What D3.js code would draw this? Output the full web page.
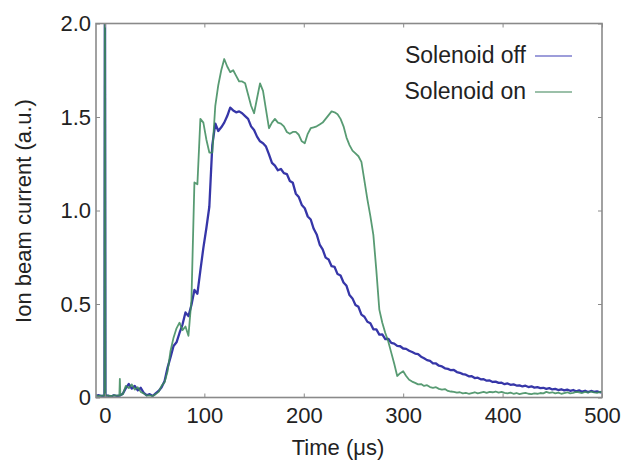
<!DOCTYPE html>
<html><head><meta charset="utf-8">
<script src="https://cdn.jsdelivr.net/npm/d3@7"></script>
<style>
html,body{margin:0;padding:0;background:#fff;}
svg{display:block;}
text{font-family:"Liberation Sans",Arial,sans-serif;fill:#222;}
</style></head>
<body>
<svg id="chart" width="621" height="464"></svg>
<script>
// sampling times (µs): a few extra samples around the two short spikes, then every 3 µs
const time = [-9, -6, -3, -0.5, 0, 0.5, 3, 6, 9, 12, 14.5, 15, 15.5].concat(d3.range(18, 502, 3));

const solenoidOff = [
  0.01, 0.012, 0.008, 0.01, 2.6, 0.01, 0.01, 0.005, 0.012, 0.008, 0.01, 0.01, 0.012, 0.02,
  0.05, 0.072, 0.048, 0.062, 0.038, 0.052, 0.025, 0.012, 0.018, 0.008,
  0.022, 0.035, 0.055, 0.088, 0.16, 0.215, 0.275, 0.295, 0.345, 0.39,
  0.455, 0.435, 0.495, 0.575, 0.555, 0.68, 0.80, 0.905, 1.02, 1.35,
  1.465, 1.425, 1.445, 1.47, 1.505, 1.55, 1.535, 1.525, 1.53, 1.52,
  1.505, 1.49, 1.45, 1.43, 1.395, 1.37, 1.36, 1.342, 1.30, 1.255,
  1.24, 1.215, 1.222, 1.20, 1.195, 1.158, 1.148, 1.09, 1.072, 1.03,
  1.012, 0.968, 0.952, 0.902, 0.872, 0.818, 0.792, 0.748, 0.738, 0.702,
  0.698, 0.66, 0.652, 0.615, 0.597, 0.548, 0.53, 0.495, 0.485, 0.443,
  0.432, 0.405, 0.397, 0.365, 0.364, 0.336, 0.338, 0.312, 0.314, 0.292,
  0.288, 0.276, 0.274, 0.262, 0.26, 0.25, 0.243, 0.235, 0.232, 0.218,
  0.21, 0.20, 0.196, 0.183, 0.182, 0.17, 0.166, 0.156, 0.153, 0.146,
  0.147, 0.136, 0.132, 0.125, 0.122, 0.113, 0.114, 0.104, 0.106, 0.097,
  0.098, 0.09, 0.091, 0.083, 0.085, 0.078, 0.079, 0.071, 0.075, 0.068,
  0.07, 0.064, 0.065, 0.059, 0.063, 0.056, 0.06, 0.053, 0.055, 0.05,
  0.052, 0.046, 0.05, 0.043, 0.046, 0.04, 0.044, 0.038, 0.042, 0.036,
  0.04, 0.033, 0.038, 0.031, 0.036, 0.029, 0.035, 0.03, 0.033, 0.028,
  0.03
];

const solenoidOn = [
  0.012, 0.008, 0.01, 0.01, 2.6, 0.01, 0.01, 0.008, 0.012, 0.01, 0.01, 0.10, 0.012, 0.018,
  0.062, 0.05, 0.07, 0.042, 0.055, 0.03, 0.022, 0.01, 0.012, 0.008,
  0.018, 0.03, 0.062, 0.082, 0.14, 0.25, 0.32, 0.37, 0.40, 0.36,
  0.38, 0.33, 0.52, 1.15, 1.14, 1.49, 1.47, 1.38, 1.31, 1.31,
  1.56, 1.67, 1.75, 1.81, 1.77, 1.74, 1.75, 1.72, 1.69, 1.69,
  1.68, 1.62, 1.56, 1.52, 1.60, 1.68, 1.64, 1.54, 1.44, 1.47,
  1.49, 1.47, 1.465, 1.45, 1.42, 1.41, 1.42, 1.42, 1.405, 1.37,
  1.36, 1.41, 1.44, 1.445, 1.45, 1.46, 1.47, 1.49, 1.51, 1.53,
  1.525, 1.515, 1.49, 1.45, 1.39, 1.35, 1.32, 1.305, 1.29, 1.26,
  1.16, 1.06, 0.97, 0.87, 0.68, 0.47, 0.40, 0.345, 0.30, 0.24,
  0.18, 0.115, 0.13, 0.14, 0.115, 0.095, 0.085, 0.078, 0.07, 0.072,
  0.062, 0.066, 0.056, 0.052, 0.055, 0.046, 0.042, 0.045, 0.035, 0.032,
  0.03, 0.026, 0.028, 0.022, 0.025, 0.02, 0.024, 0.028, 0.022, 0.026,
  0.03, 0.025, 0.03, 0.028, 0.032, 0.026, 0.03, 0.025, 0.022, 0.026,
  0.02, 0.024, 0.018, 0.022, 0.025, 0.02, 0.018, 0.022, 0.02, 0.024,
  0.022, 0.03, 0.025, 0.028, 0.022, 0.026, 0.02, 0.024, 0.028, 0.022,
  0.025, 0.03, 0.028, 0.024, 0.03, 0.026, 0.032, 0.028, 0.025, 0.03,
  0.028
];

const seriesNames = ["Solenoid off", "Solenoid on"];
const seriesColors = ["#2b2ba3", "#3b8a5a"];
const legendColors = ["#7c7cce", "#7aab8c"];
const xTicks = [0, 100, 200, 300, 400, 500];
const yTicks = [0, 0.5, 1.0, 1.5, 2.0];
const yTickLabels = ["0", "0.5", "1.0", "1.5", "2.0"];
const xTitle = "Time (\u03bcs)";
const yTitle = "Ion beam current (a.u.)";

const svg = d3.select("#chart");
const L = 96, R = 602, T = 23.5, B = 397.5;
const x = d3.scaleLinear().domain([-9, 500]).range([L, R]);
const y = d3.scaleLinear().domain([0, 2]).range([B, T]);

svg.append("defs").append("clipPath").attr("id", "clip")
  .append("rect").attr("x", L).attr("y", T).attr("width", R - L).attr("height", B - T);

const line = d3.line().x((d, i) => x(time[i])).y(d => y(d));
const plot = svg.append("g").attr("clip-path", "url(#clip)");
[solenoidOff, solenoidOn].forEach((s, k) => {
  plot.append("path").datum(s)
    .attr("d", line)
    .attr("fill", "none")
    .attr("stroke", seriesColors[k])
    .attr("stroke-width", k === 0 ? 2.3 : 1.8)
    .attr("stroke-linejoin", "round")
    .attr("opacity", k === 0 ? 0.95 : 0.85);
});

const fs = "22px";
const frameColor = "#8a8a8a";
const gx = svg.append("g").attr("transform", `translate(0,${B})`)
  .call(d3.axisBottom(x).tickValues(xTicks).tickSizeInner(-4).tickSizeOuter(0).tickPadding(9.5));
const gxt = svg.append("g").attr("transform", `translate(0,${T})`)
  .call(d3.axisTop(x).tickValues(xTicks).tickSizeInner(-4).tickSizeOuter(0).tickFormat(""));
const gy = svg.append("g").attr("transform", `translate(${L},0)`)
  .call(d3.axisLeft(y).tickValues(yTicks).tickSizeInner(-4).tickSizeOuter(0).tickPadding(5)
    .tickFormat((d, i) => yTickLabels[i]));
const gyr = svg.append("g").attr("transform", `translate(${R},0)`)
  .call(d3.axisRight(y).tickValues(yTicks).tickSizeInner(-4).tickSizeOuter(0).tickFormat(""));
[gx, gxt, gy, gyr].forEach(g => {
  g.select(".domain").remove();
  g.selectAll(".tick line").attr("stroke", frameColor).attr("stroke-width", 1);
  g.selectAll("text").style("font-size", fs).style("font-family", '"Liberation Sans",Arial,sans-serif').attr("fill", "#222");
});

svg.append("rect").attr("x", L).attr("y", T).attr("width", R - L).attr("height", B - T)
  .attr("fill", "none").attr("stroke", frameColor).attr("stroke-width", 1.6);

svg.append("text").attr("x", 338).attr("y", 455).attr("text-anchor", "middle")
  .style("font-size", fs).text(xTitle);
svg.append("text").attr("transform", "translate(31,211) rotate(-90)").attr("text-anchor", "middle")
  .style("font-size", fs).text(yTitle);

seriesNames.forEach((n, k) => {
  const yy = 56 + 36 * k;
  svg.append("text").attr("x", 526).attr("y", yy + 7).attr("text-anchor", "end")
    .style("font-size", "23px").text(n);
  svg.append("line").attr("x1", 535).attr("x2", 572).attr("y1", yy).attr("y2", yy)
    .attr("stroke", legendColors[k]).attr("stroke-width", 1.3);
});
</script>
</body></html>
